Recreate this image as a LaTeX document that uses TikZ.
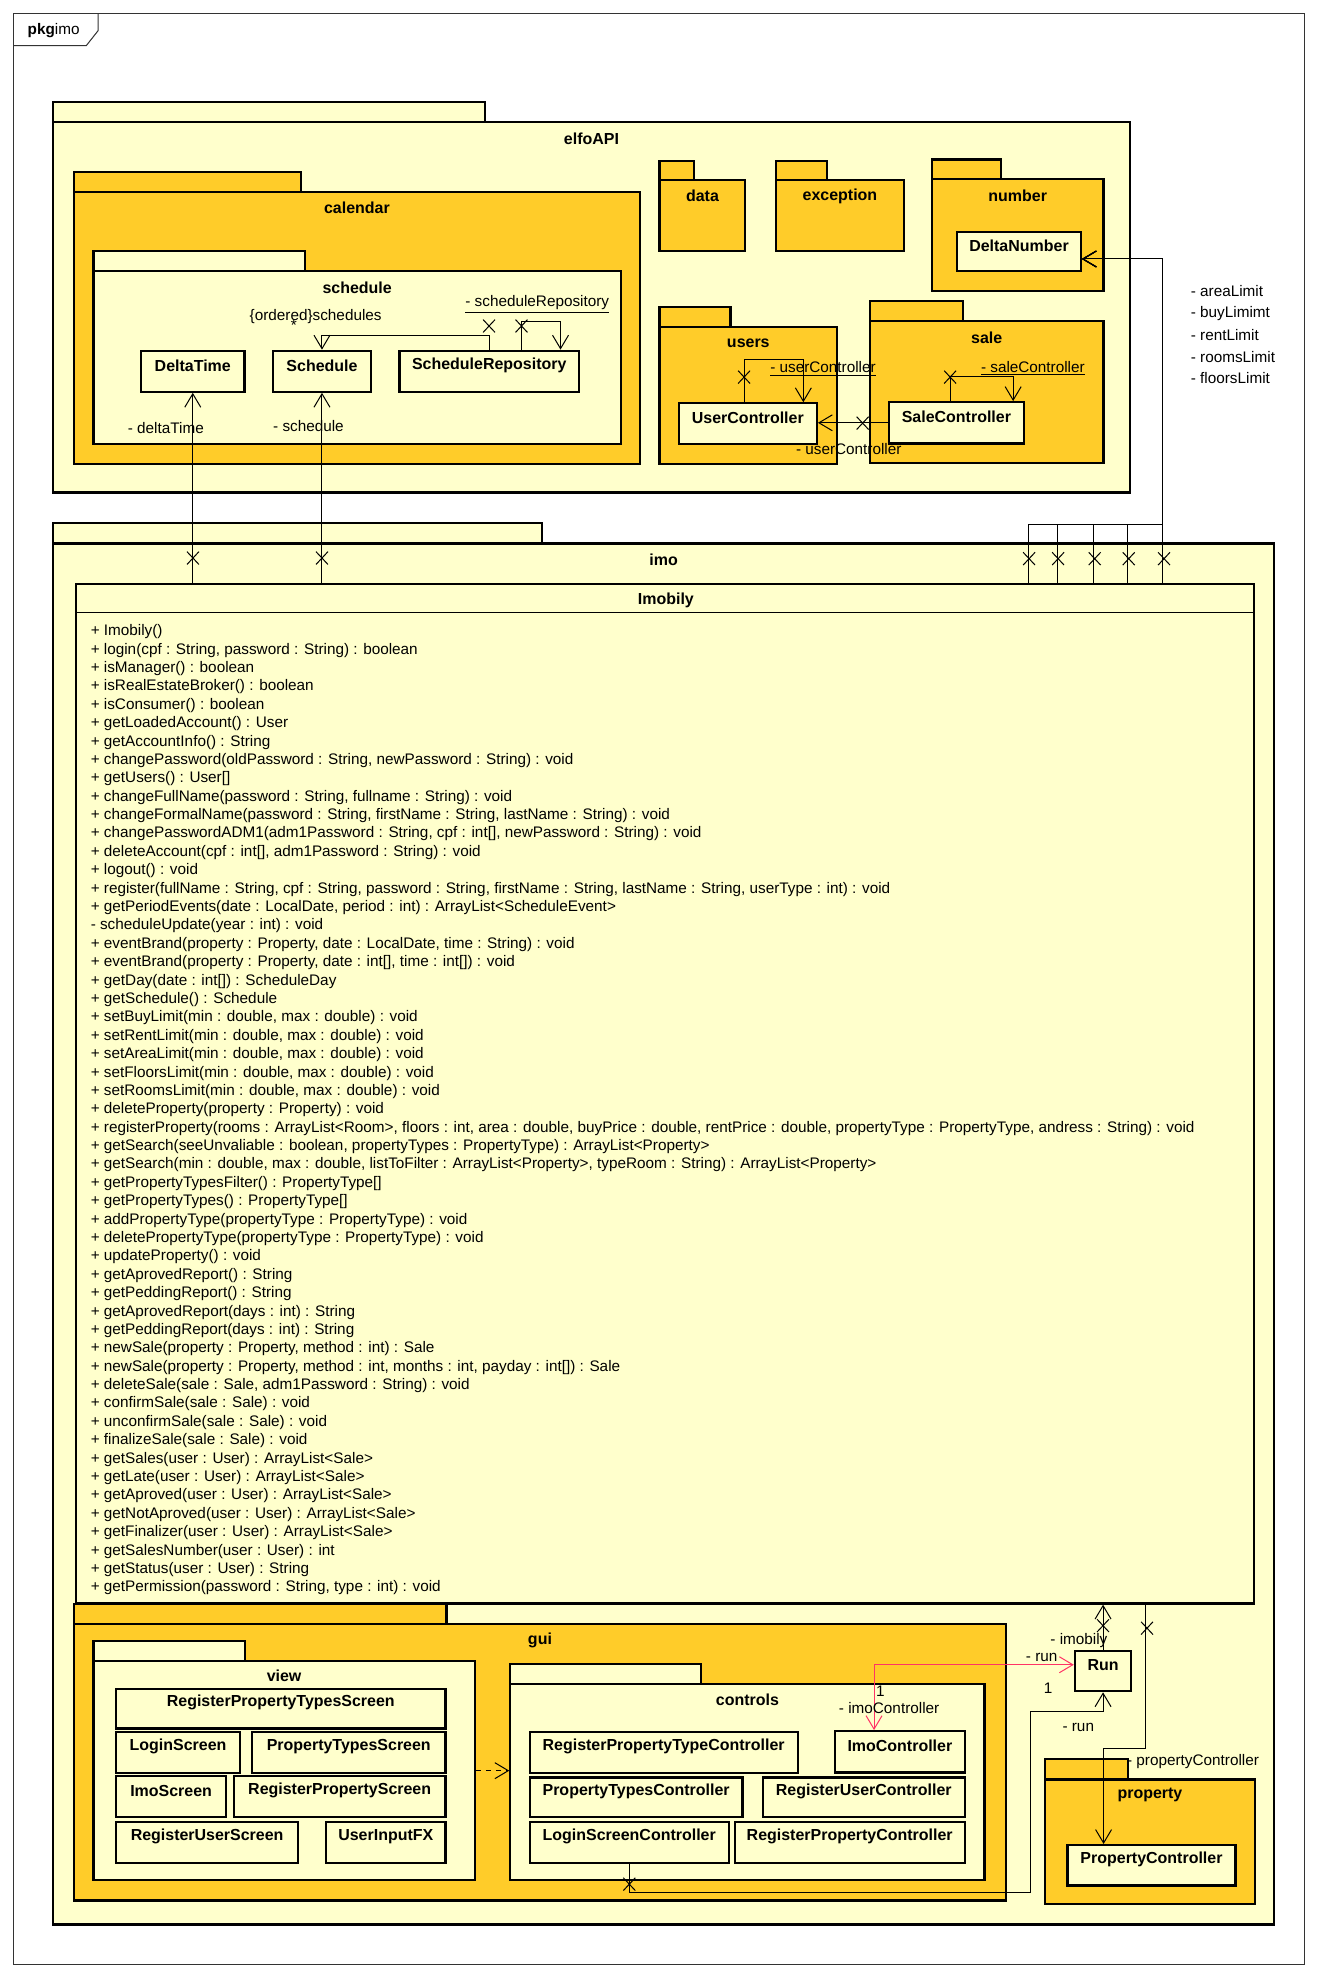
\documentclass[tikz,border=0pt]{standalone}
\usepackage{fontspec}
\setmainfont{Liberation Sans}
\usetikzlibrary{calc}
\usetikzlibrary{arrows.meta}
\usetikzlibrary{fit}
\usetikzlibrary{shapes.misc}
\definecolor{pkglight}{RGB}{255,255,204}
\definecolor{pkggold}{RGB}{255,204,41}
\definecolor{linkred}{RGB}{255,51,102}

\begin{document}
\begin{tikzpicture}[x=0.75pt,y=0.75pt,yscale=-1,xscale=1,
  framel/.style={draw=black!80, line width=0.6pt},
  pkgtab/.style={draw, line width=1.3pt},
  pkgbody/.style={draw, line width=1.3pt, inner sep=0pt},
  pkgtitle/.style={inner sep=0pt, font=\bfseries\fontsize{9.5}{11}\selectfont},
  classbox/.style={draw, line width=1.3pt, fill=pkglight, inner sep=0pt, text depth=0.5em, font=\bfseries\fontsize{9.5}{11}\selectfont},
  role/.style={inner sep=0pt, font=\fontsize{9.1}{11}\selectfont},
  nav/.style={line width=0.6pt, -{Straight Barb[length=8pt,width=9.5pt]}},
  navboth/.style={line width=0.6pt, {Straight Barb[length=8pt,width=9.5pt]}-{Straight Barb[length=8pt,width=9.5pt]}},
  dep/.style={line width=0.6pt, dash pattern=on 3pt off 3pt, -{Straight Barb[length=8pt,width=9.5pt]}},
  xmark/.style={draw, cross out, line width=0.6pt, minimum width=6.5pt, minimum height=7pt, inner sep=0pt}
]
%uncomment if require: \path (0,1570); %set diagram left start at 0, and has height of 1570
\path[fill=white] (0,0) rectangle (1045,1570);

%Frame [pkg imo]
\draw[framel] (10.7,10.6) rectangle (1034.4,1558);
\draw[framel] (10.7,36.2) -- (68.4,36.2) -- (77.8,24.3) -- (77.8,10.6);
% Text Node
\node[role, anchor=west] (pkgtag) at (21.7,24.3) {\textbf{pkg}imo};

%Package [elfoAPI]
\draw[pkgtab, fill=pkglight] (42,81) rectangle (384.5,97);
\node[pkgbody, fill=pkglight, fit={(42,97) (896,390.5)}] (elfoapi) {};
\node[pkgtitle] (telfoapi) at ($(elfoapi.north)+(0,14)$) {elfoAPI};

%Package [calendar]
\draw[pkgtab, fill=pkggold] (58.4,136.7) rectangle (238.7,152);
\node[pkgbody, fill=pkggold, fit={(58.4,152) (507.6,368)}] (calendar) {};
\node[pkgtitle] (tcalendar) at ($(calendar.north)+(0,14)$) {calendar};

%Package [schedule]
\draw[pkgtab, fill=pkglight] (74.1,199) rectangle (241.6,214.7);
\node[pkgbody, fill=pkglight, fit={(74.1,214.7) (492.3,352.3)}] (schedulepkg) {};
\node[pkgtitle] (tschedule) at ($(schedulepkg.north)+(0,14)$) {schedule};

%Classes [schedule]
\node[classbox, fit={(111.8,278.1) (193.9,310.6)}] (dtime) {DeltaTime};
\node[classbox, fit={(216.6,278.1) (294,310.6)}] (sched) {Schedule};
\node[classbox, fit={(316.7,278.1) (459.2,310.6)}] (repo) {ScheduleRepository};

%Package [data]
\draw[pkgtab, fill=pkggold] (523,127.5) rectangle (550,142.5);
\node[pkgbody, fill=pkggold, fit={(523,142.5) (591,198.8)}] (data) {};
\node[pkgtitle] (tdata) at ($(data.north)+(0,14)$) {data};

%Package [exception]
\draw[pkgtab, fill=pkggold] (615,127.5) rectangle (656,142.5);
\node[pkgbody, fill=pkggold, fit={(615,142.5) (717,198.8)}] (exception) {};
\node[pkgtitle] (texception) at ($(exception.north)+(0,14)$) {exception};

%Package [number]
\draw[pkgtab, fill=pkggold] (739,126.5) rectangle (794,142);
\node[pkgbody, fill=pkggold, fit={(739,142) (875,231)}] (number) {};
\node[pkgtitle] (tnumber) at ($(number.north)+(0,14)$) {number};
\node[classbox, fit={(759,183.7) (857,215)}] (dnum) {DeltaNumber};

%Package [users]
\draw[pkgtab, fill=pkggold] (523,243.5) rectangle (579.3,259.2);
\node[pkgbody, fill=pkggold, fit={(523,259.2) (663.7,367.7)}] (users) {};
\node[pkgtitle] (tusers) at ($(users.north)+(0,13.5)$) {users};
\node[classbox, fit={(538.3,319.8) (647.7,352.3)}] (uctrl) {UserController};

%Package [sale]
\draw[pkgtab, fill=pkggold] (689.7,238.6) rectangle (763.9,254.6);
\node[pkgbody, fill=pkggold, fit={(689.7,254.6) (875,366.8)}] (sale) {};
\node[pkgtitle] (tsale) at ($(sale.north)+(0,14)$) {sale};
\node[classbox, fit={(705,318.9) (811.7,351.6)}] (sctrl) {SaleController};

%Package [imo]
\draw[pkgtab, fill=pkglight] (42,415) rectangle (430,431);
\node[pkgbody, fill=pkglight, fit={(42,431) (1010.5,1526)}] (imo) {};
\node[pkgtitle] (timo) at ($(imo.north)+(0,13.5)$) {imo};

%Class [Imobily]
\node[classbox, fit={(60.5,463) (994,1271.5)}] (imobily) {};
\node[pkgtitle] (imohead) at (528,476) {Imobily};
\draw[line width=0.6pt] ($(imobily.north west)+(0,23.5)$) -- ($(imobily.north east)+(0,23.5)$);
% Text Node
\node[role, anchor=north west, align=left, font=\fontsize{9.1}{10.935}\selectfont] (ops) at (71.7,495) {%
+ Imobily()\\
+ login(cpf : String, password : String) : boolean\\
+ isManager() : boolean\\
+ isRealEstateBroker() : boolean\\
+ isConsumer() : boolean\\
+ getLoadedAccount() : User\\
+ getAccountInfo() : String\\
+ changePassword(oldPassword : String, newPassword : String) : void\\
+ getUsers() : User[]\\
+ changeFullName(password : String, fullname : String) : void\\
+ changeFormalName(password : String, firstName : String, lastName : String) : void\\
+ changePasswordADM1(adm1Password : String, cpf : int[], newPassword : String) : void\\
+ deleteAccount(cpf : int[], adm1Password : String) : void\\
+ logout() : void\\
+ register(fullName : String, cpf : String, password : String, firstName : String, lastName : String, userType : int) : void\\
+ getPeriodEvents(date : LocalDate, period : int) : ArrayList<ScheduleEvent>\\
- scheduleUpdate(year : int) : void\\
+ eventBrand(property : Property, date : LocalDate, time : String) : void\\
+ eventBrand(property : Property, date : int[], time : int[]) : void\\
+ getDay(date : int[]) : ScheduleDay\\
+ getSchedule() : Schedule\\
+ setBuyLimit(min : double, max : double) : void\\
+ setRentLimit(min : double, max : double) : void\\
+ setAreaLimit(min : double, max : double) : void\\
+ setFloorsLimit(min : double, max : double) : void\\
+ setRoomsLimit(min : double, max : double) : void\\
+ deleteProperty(property : Property) : void\\
+ registerProperty(rooms : ArrayList<Room>, floors : int, area : double, buyPrice : double, rentPrice : double, propertyType : PropertyType, andress : String) : void\\
+ getSearch(seeUnvaliable : boolean, propertyTypes : PropertyType) : ArrayList<Property>\\
+ getSearch(min : double, max : double, listToFilter : ArrayList<Property>, typeRoom : String) : ArrayList<Property>\\
+ getPropertyTypesFilter() : PropertyType[]\\
+ getPropertyTypes() : PropertyType[]\\
+ addPropertyType(propertyType : PropertyType) : void\\
+ deletePropertyType(propertyType : PropertyType) : void\\
+ updateProperty() : void\\
+ getAprovedReport() : String\\
+ getPeddingReport() : String\\
+ getAprovedReport(days : int) : String\\
+ getPeddingReport(days : int) : String\\
+ newSale(property : Property, method : int) : Sale\\
+ newSale(property : Property, method : int, months : int, payday : int[]) : Sale\\
+ deleteSale(sale : Sale, adm1Password : String) : void\\
+ confirmSale(sale : Sale) : void\\
+ unconfirmSale(sale : Sale) : void\\
+ finalizeSale(sale : Sale) : void\\
+ getSales(user : User) : ArrayList<Sale>\\
+ getLate(user : User) : ArrayList<Sale>\\
+ getAproved(user : User) : ArrayList<Sale>\\
+ getNotAproved(user : User) : ArrayList<Sale>\\
+ getFinalizer(user : User) : ArrayList<Sale>\\
+ getSalesNumber(user : User) : int\\
+ getStatus(user : User) : String\\
+ getPermission(password : String, type : int) : void};

%Package [gui]
\draw[pkgtab, fill=pkggold] (58.6,1272) rectangle (354,1287.7);
\node[pkgbody, fill=pkggold, fit={(58.6,1287.7) (797.7,1507)}] (gui) {};
\node[pkgtitle] (tgui) at ($(gui.north)+(0,13.5)$) {gui};

%Package [view]
\draw[pkgtab, fill=pkglight] (74.1,1301) rectangle (194,1317);
\node[pkgbody, fill=pkglight, fit={(74.1,1317) (376.4,1491)}] (view) {};
\node[pkgtitle] (tview) at ($(view.north)+(0,13)$) {view};
\node[classbox, fit={(92,1339) (353.3,1370.6)}] (rptscr) {RegisterPropertyTypesScreen};
\node[classbox, fit={(92,1373.5) (190.4,1405.8)}] (loginscr) {LoginScreen};
\node[classbox, fit={(199.8,1373.5) (353.3,1405.8)}] (ptscr) {PropertyTypesScreen};
\node[classbox, fit={(92,1408.4) (179.4,1440.7)}] (imoscr) {ImoScreen};
\node[classbox, fit={(185.4,1408.4) (353.3,1440.7)}] (rpscr) {RegisterPropertyScreen};
\node[classbox, fit={(92,1444.6) (236.5,1477.2)}] (ruscr) {RegisterUserScreen};
\node[classbox, fit={(258.5,1444.6) (353.3,1477.2)}] (uifx) {UserInputFX};

%Package [controls]
\draw[pkgtab, fill=pkglight] (404.7,1319.5) rectangle (555.6,1335.4);
\node[pkgbody, fill=pkglight, fit={(404.7,1335.4) (780.6,1491)}] (controls) {};
\node[pkgtitle] (tcontrols) at ($(controls.north)+(0,13)$) {controls};
\node[classbox, fit={(420,1373.5) (632.5,1405.8)}] (rptctrl) {RegisterPropertyTypeController};
\node[classbox, fit={(662.2,1372.7) (764.9,1405.5)}] (imoctrl) {ImoController};
\node[classbox, fit={(420,1409.4) (588.8,1441)}] (ptctrl) {PropertyTypesController};
\node[classbox, fit={(605,1409.4) (764.9,1441)}] (ructrl) {RegisterUserController};
\node[classbox, fit={(420,1445) (577.9,1477.2)}] (lsctrl) {LoginScreenController};
\node[classbox, fit={(582.6,1445) (764.9,1477.2)}] (rpctrl) {RegisterPropertyController};

%Class [Run]
\node[classbox, fit={(852.3,1309) (897,1341)}] (run) {Run};

%Package [property]
\draw[pkgtab, fill=pkggold] (828.3,1395) rectangle (894.5,1411);
\node[pkgbody, fill=pkggold, fit={(828.3,1411) (995.3,1509.5)}] (property) {};
\node[pkgtitle] (tproperty) at ($(property.north)+(0,13.5)$) {property};
\node[classbox, fit={(846.4,1463) (979.7,1495)}] (pctrl) {PropertyController};

%Straight Lines [schedule]
\draw[nav] (repo.north) -- ++(0,-11) -| (sched.north);
\draw[nav] ($(repo.north)+(25.5,0)$) |- ++(31,-22.5) -- ++(0,22.5);
\draw[nav] (dtime.south |- imobily.north) -- (dtime.south);
\draw[nav] (sched.south |- imobily.north) -- (sched.south);

%Straight Lines [limits]
\draw[nav] ($(imobily.north west)+(755.5,0)$) |- ++(107,-46) |- ($(dnum.east)+(0,6)$);
\draw[nav] ($(imobily.north west)+(778.5,0)$) |- ++(84,-46) |- ($(dnum.east)+(0,6)$);
\draw[nav] ($(imobily.north west)+(807.5,0)$) |- ++(55,-46) |- ($(dnum.east)+(0,6)$);
\draw[nav] ($(imobily.north west)+(834.5,0)$) |- ++(28,-46) |- ($(dnum.east)+(0,6)$);
\draw[nav] ($(imobily.north west)+(862.5,0)$) |- ($(dnum.east)+(0,6)$);

%Straight Lines [users, sale]
\draw[nav] ($(uctrl.north)+(-3,0)$) |- ++(47,-33.5) -- ++(0,33.5);
\draw[nav] ($(sctrl.north)+(-5,0)$) |- ++(50,-19.5) -- ++(0,19.5);
\draw[nav] (sctrl.west) -- (sctrl.west -| uctrl.east);

%Straight Lines [gui, run, property]
\draw[dep] (view.east) -- (view.east -| controls.west);
\draw[nav] (run.north) -- (run.north |- imobily.south);
\draw[nav] ($(imobily.south west)+(849,0)$) |- ($(pctrl.north)+(-38,-76)$) -- ($(pctrl.north)+(-38,0)$);
\draw[navboth, draw=linkred] ($(imoctrl.north)+(-20.5,0)$) |- ($(run.west)+(0,-5)$);
\draw[nav] (lsctrl.south) |- ++(318.5,22.5) |- ($(run.south)+(0,15.5)$) -- (run.south);

%Crosses
\node[xmark] (x1) at (387.8,258.5) {};
\node[xmark] (x2) at (413.5,258.5) {};
\node[xmark] (x3) at (153,442.5) {};
\node[xmark] (x4) at (255.3,442.5) {};
\node[xmark] (x5) at (816,443) {};
\node[xmark] (x6) at (839,443) {};
\node[xmark] (x7) at (868,443) {};
\node[xmark] (x8) at (895,443) {};
\node[xmark] (x9) at (923,443) {};
\node[xmark] (x10) at (590,299) {};
\node[xmark] (x11) at (753.4,299) {};
\node[xmark] (x12) at (684,335.5) {};
\node[xmark] (x13) at (874.6,1289) {};
\node[xmark] (x14) at (909.5,1291) {};
\node[xmark] (x15) at (499,1494) {};

% Text Node
\node[role] (rschedules) at (250.3,251) {\{ordered\}schedules};
\node[role] (rstar) at (233,258) {*};
\node[role] (rrepo) at (426,241.6) {\underline{- scheduleRepository}};
\node[role] (rdtime) at (131.5,339.7) {- deltaTime};
\node[role] (rsched) at (244.6,337.6) {- schedule};
\node[role] (ructrl) at (652.6,292.5) {\underline{- userController}};
\node[role] (rsctrl) at (819,292) {\underline{- saleController}};
\node[role] (ructrlb) at (673,356) {- userController};
\node[role, anchor=west] (rarea) at (944,231) {- areaLimit};
\node[role, anchor=west] (rbuy) at (944,248.5) {- buyLimimt};
\node[role, anchor=west] (rrent) at (944,265.8) {- rentLimit};
\node[role, anchor=west] (rrooms) at (944,283) {- roomsLimit};
\node[role, anchor=west] (rfloors) at (944,299.5) {- floorsLimit};
\node[role] (rimobily) at (855.5,1301) {- imobily};
\node[role] (rruna) at (826,1314.5) {- run};
\node[role] (rone) at (831,1339) {1};
\node[role] (rtwo) at (698,1341) {1};
\node[role] (rimoctrl) at (705,1354) {- imoController};
\node[role] (rrunb) at (855,1370) {- run};
\node[role] (rpctrl) at (946,1397) {- propertyController};

\end{tikzpicture}
\end{document}
